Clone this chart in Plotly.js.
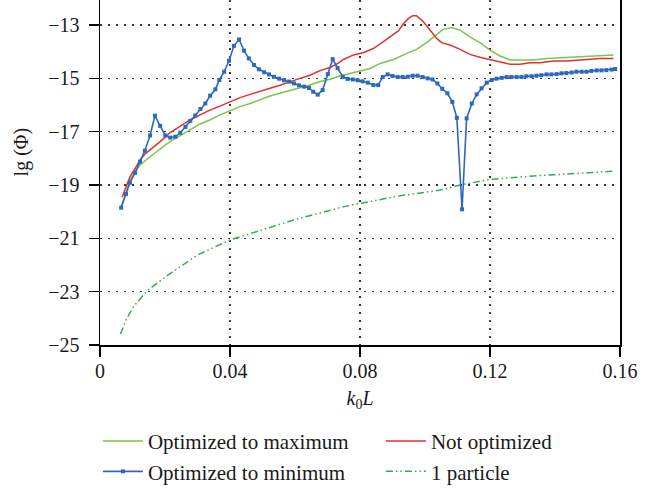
<!DOCTYPE html>
<html>
<head>
<meta charset="utf-8">
<script src="https://cdn.plot.ly/plotly-3.0.1.min.js"></script>
<style>
  html, body { margin: 0; padding: 0; background: #ffffff; }
  #chart { width: 657px; height: 488px; }
</style>
</head>
<body>
<div id="chart"></div>
<script>
// ---- Data ----
const xTickVals = [0, 0.04, 0.08, 0.12, 0.16];
const xTickText = ["0", "0.04", "0.08", "0.12", "0.16"];
const yTickVals = [-25, -23, -21, -19, -17, -15, -13];
const yTickText = ["\u221225", "\u221223", "\u221221", "\u221219", "\u221217", "\u221215", "\u221213"];

const seriesNames = ["Optimized to maximum", "Not optimized", "Optimized to minimum", "1 particle"];

// Optimized to maximum (light green)
const maxX = [0.0065,0.0080,0.0092,0.0108,0.0123,0.0154,0.0185,0.0215,0.0246,0.0277,
              0.0308,0.0338,0.0369,0.0400,0.0431,0.0462,0.0492,0.0523,0.0554,0.0585,
              0.0615,0.0646,0.0677,0.0708,0.0738,0.0769,0.0800,0.0831,0.0862,0.0903,
              0.0944,0.0974,0.1005,0.1036,0.1056,0.1082,0.1108,0.1138,0.1169,0.1200,
              0.1231,0.1262,0.1292,0.1333,0.1374,0.1436,0.1497,0.1538,0.1580];
const maxY = [-19.81,-19.31,-18.81,-18.50,-18.25,-17.94,-17.65,-17.37,-17.16,-16.94,
              -16.71,-16.56,-16.37,-16.22,-16.06,-15.94,-15.79,-15.66,-15.56,-15.46,
              -15.34,-15.25,-15.12,-15.03,-14.91,-14.81,-14.71,-14.63,-14.44,-14.29,
              -14.06,-13.91,-13.66,-13.37,-13.16,-13.09,-13.19,-13.44,-13.66,-13.94,
              -14.16,-14.31,-14.31,-14.31,-14.25,-14.21,-14.16,-14.16,-14.12];

// Not optimized (red)
const notX = [0.0068,0.0080,0.0092,0.0108,0.0123,0.0138,0.0154,0.0185,0.0215,0.0246,
              0.0277,0.0308,0.0338,0.0369,0.0400,0.0431,0.0462,0.0492,0.0523,0.0554,
              0.0585,0.0615,0.0646,0.0677,0.0708,0.0732,0.0749,0.0780,0.0810,0.0841,
              0.0872,0.0892,0.0918,0.0933,0.0949,0.0962,0.0974,0.0995,0.1015,0.1036,
              0.1051,0.1077,0.1108,0.1138,0.1169,0.1200,0.1231,0.1262,0.1292,0.1323,
              0.1354,0.1395,0.1436,0.1487,0.1538,0.1580];
const notY = [-19.46,-19.05,-18.69,-18.38,-18.06,-17.84,-17.69,-17.37,-17.04,-16.79,
              -16.56,-16.37,-16.19,-16.04,-15.87,-15.72,-15.60,-15.50,-15.37,-15.26,
              -15.12,-15.00,-14.88,-14.71,-14.59,-14.44,-14.29,-14.12,-14.04,-13.88,
              -13.62,-13.44,-13.22,-12.96,-12.75,-12.65,-12.65,-12.88,-13.19,-13.50,
              -13.66,-13.75,-13.91,-14.10,-14.21,-14.29,-14.38,-14.47,-14.47,-14.41,
              -14.41,-14.35,-14.35,-14.31,-14.25,-14.25];

// Optimized to minimum (blue, with markers)
const minX = [0.0065,0.0080,0.0092,0.0108,0.0123,0.0138,0.0154,0.0169,0.0185,0.0201,
              0.0216,0.0232,0.0247,0.0263,0.0278,0.0293,0.0309,0.0324,0.0339,0.0355,
              0.0367,0.0382,0.0397,0.0412,0.0428,0.0443,0.0458,0.0474,0.0489,0.0505,
              0.0520,0.0535,0.0551,0.0566,0.0582,0.0597,0.0612,0.0628,0.0643,0.0656,
              0.0670,0.0685,0.0701,0.0716,0.0731,0.0747,0.0762,0.0778,0.0793,0.0808,
              0.0824,0.0841,0.0856,0.0870,0.0885,0.0900,0.0916,0.0931,0.0947,0.0962,
              0.0977,0.0993,0.1008,0.1023,0.1038,0.1053,0.1069,0.1084,0.1098,0.1114,
              0.1128,0.1144,0.1159,0.1174,0.1190,0.1205,0.1220,0.1236,0.1251,0.1266,
              0.1282,0.1297,0.1312,0.1328,0.1343,0.1358,0.1374,0.1389,0.1405,0.1420,
              0.1435,0.1451,0.1466,0.1482,0.1497,0.1512,0.1528,0.1543,0.1558,0.1574,
              0.1585];
const minY = [-19.85,-19.34,-18.91,-18.54,-18.12,-17.71,-17.14,-16.40,-16.78,-17.14,
              -17.22,-17.19,-17.04,-16.82,-16.59,-16.39,-16.15,-15.94,-15.65,-15.41,
              -15.06,-14.75,-14.34,-13.78,-13.54,-13.96,-14.25,-14.50,-14.66,-14.77,
              -14.85,-14.94,-15.01,-15.07,-15.12,-15.19,-15.26,-15.31,-15.36,-15.50,
              -15.61,-15.44,-14.84,-14.28,-14.61,-14.94,-15.02,-15.04,-15.07,-15.11,
              -15.16,-15.25,-15.25,-14.95,-14.85,-14.91,-14.95,-14.95,-14.94,-14.90,
              -14.90,-14.95,-15.00,-15.04,-15.19,-15.39,-15.56,-15.88,-16.48,-19.91,
              -16.50,-15.94,-15.60,-15.37,-15.16,-15.06,-15.01,-14.98,-14.95,-14.95,
              -14.95,-14.95,-14.92,-14.92,-14.90,-14.88,-14.85,-14.85,-14.84,-14.81,
              -14.80,-14.78,-14.75,-14.75,-14.75,-14.72,-14.70,-14.70,-14.69,-14.67,
              -14.65];

// 1 particle (green dash-dot)
const oneX = [0.0063,0.0080,0.0103,0.0147,0.0209,0.0299,0.0400,0.0493,0.0596,0.0674,
              0.0751,0.0800,0.0919,0.1048,0.1108,0.1200,0.1333,0.1436,0.1580];
const oneY = [-24.59,-24.06,-23.56,-22.94,-22.38,-21.63,-21.06,-20.69,-20.31,-20.06,
              -19.81,-19.69,-19.41,-19.19,-19.00,-18.79,-18.66,-18.59,-18.48];

// ---- Styling ----
const FONT = "'Liberation Serif', 'DejaVu Serif', serif";
const TXT = "#1a1a1a";

const traces = [
  { x: oneX, y: oneY, name: seriesNames[3], type: "scatter", mode: "lines",
    line: { color: "#2fae4e", width: 1.5, dash: "7px,3px,1.5px,3px,1.5px,3px" }, legendrank: 4 },
  { x: maxX, y: maxY, name: seriesNames[0], type: "scatter", mode: "lines",
    line: { color: "#7cc44a", width: 1.5 }, legendrank: 1 },
  { x: notX, y: notY, name: seriesNames[1], type: "scatter", mode: "lines",
    line: { color: "#e0312f", width: 1.5 }, legendrank: 2 },
  { x: minX, y: minY, name: seriesNames[2], type: "scatter", mode: "lines+markers",
    line: { color: "#2d68bd", width: 1.6 },
    marker: { symbol: "square", size: 4, color: "#2d68bd" }, legendrank: 3 }
];

const layout = {
  width: 657, height: 488,
  margin: { l: 100, r: 37, t: 0, b: 143, autoexpand: false },
  paper_bgcolor: "#ffffff", plot_bgcolor: "#ffffff",
  font: { family: FONT, size: 20, color: TXT },
  showlegend: true,
  xaxis: {
    range: [0, 0.16],
    tickvals: xTickVals, ticktext: xTickText,
    ticks: "outside", ticklen: 10, tickwidth: 1.5, tickcolor: "#000",
    showline: true, linecolor: "#000", linewidth: 1.5, mirror: false,
    showgrid: true, gridcolor: "#333", gridwidth: 1.2, griddash: "1.5px,6.5px",
    zeroline: false,
    ticklabelstandoff: -3,
    tickfont: { family: FONT, size: 20, color: TXT },
    title: { text: "<i>k</i><sub>0</sub><i>L</i>", font: { family: FONT, size: 20, color: TXT }, standoff: 10 }
  },
  yaxis: {
    range: [-25, -12.06],
    tickvals: yTickVals, ticktext: yTickText,
    ticks: "outside", ticklen: 10, tickwidth: 1.5, tickcolor: "#000",
    showline: true, linecolor: "#000", linewidth: 1.5, mirror: true,
    showgrid: true, gridcolor: "#333", gridwidth: 1.2, griddash: "1.5px,6.5px",
    zeroline: false,
    ticklabelstandoff: 5,
    tickfont: { family: FONT, size: 20, color: TXT }
  },
  legend: {
    orientation: "h",
    x: -0.004, xanchor: "left",
    y: -0.220, yanchor: "top",
    itemwidth: 40,
    entrywidth: 228,
    font: { family: FONT, size: 21, color: TXT },
    bgcolor: "rgba(0,0,0,0)",
    traceorder: "normal"
  },
  annotations: [
    { text: "lg (\u03A6)", textangle: -90, xref: "paper", yref: "paper",
      x: -0.152, y: 0.561, xanchor: "center", yanchor: "middle", showarrow: false,
      font: { family: FONT, size: 20, color: TXT } }
  ]
};

Plotly.newPlot("chart", traces, layout, { displayModeBar: false, staticPlot: true });
</script>
</body>
</html>
